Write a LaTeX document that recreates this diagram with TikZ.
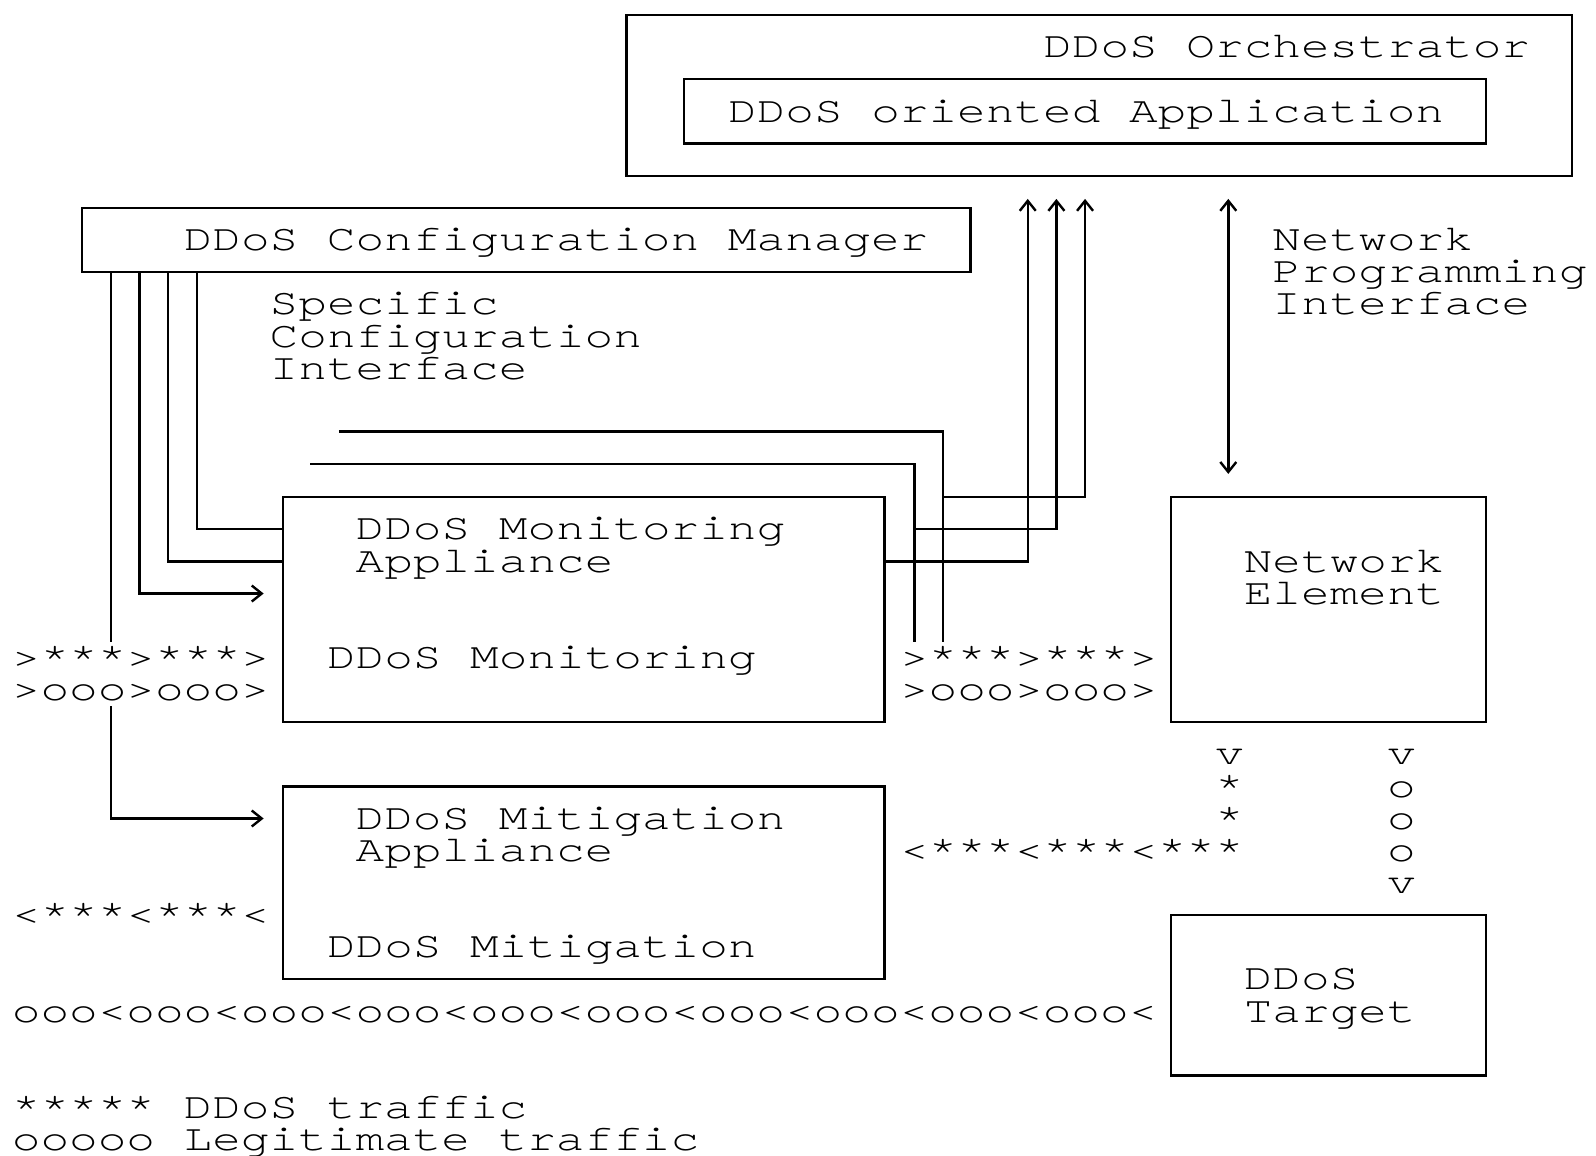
\documentclass[tikz,border=0pt]{standalone}
\usepackage{fontspec}
\newfontfamily\asciifont{texgyrecursor-regular.otf}[FakeStretch=1.297, Ligatures={CommonOff}]
\usetikzlibrary{fit,arrows.meta}
\tikzset{
  unitbox/.style={draw, inner sep=0pt},
  stackbox/.style={inner sep=0pt},
  txt/.style={font=\asciifont\fontsize{18.4pt}{16.07pt}\selectfont, inner sep=0pt, anchor=base west, text height=13.3pt, text depth=2.6pt},
  traffic/.style={txt, fill=white},
}
\begin{document}
\begin{tikzpicture}[x=14.325pt, y=-16.07pt, line width=1.2pt, >={Straight Barb[length=5pt,width=8pt]}]
\useasboundingbox (-0.8726,-0.4667) rectangle (54.834,35.47);
\node[unitbox, fit={(21,0) (54,5)}] (orch) {};
\node[unitbox, fit={(23,2) (51,4)}] (app) {};
\node[unitbox, fit={(2,6) (33,8)}] (cfg) {};
\node[stackbox, fit={(11,13) (32,19.5)}] (monC) {};
\node[stackbox, fit={(10,14) (31,19.5)}] (monB) {};
\node[unitbox, fit={(9,15) (30,22)}] (monA) {};
\node[unitbox, fit={(9,24) (30,30)}] (mit) {};
\node[unitbox, fit={(40,15) (51,22)}] (ne) {};
\node[unitbox, fit={(40,28) (51,33)}] (tgt) {};
\draw (monC.north west) -- (monC.north east) -- (monC.south east);
\draw (monB.north west) -- (monB.north east) -- (monB.south east);

\draw (cfg.south -| 6,0) |- (monA.west |- 0,16);
\draw (cfg.south -| 5,0) |- (monA.west |- 0,17);
\draw[->, shorten >=9pt] (cfg.south -| 4,0) |- (monA.west |- 0,18);
\draw[->, shorten >=9pt] (cfg.south -| 3,0) |- (mit.west |- 0,25);
\draw[<-, shorten <=11pt] (orch.south -| 35,0) |- (monA.east |- 0,17);
\draw[<-, shorten <=11pt] (orch.south -| 36,0) |- (monB.east |- 0,16);
\draw[<-, shorten <=11pt] (orch.south -| 37,0) |- (monC.east |- 0,15);
\draw[<->, shorten <=11pt, shorten >=11pt] (orch.south -| 42,0) -- (ne.north -| 42,0);

\node[txt] (orchtxt) at (35.5,1.333) {DDoS Orchestrator};
\node[txt] (apptxt) at (24.5,3.333) {DDoS oriented Application};
\node[txt] (cfgtxt) at (5.5,7.333) {DDoS Configuration Manager};
\foreach \t [count=\i from 9] in {Specific,Configuration,Interface}
  \node[txt] (sci\i) at (8.5,\i+0.333) {\t};
\foreach \t [count=\i from 7] in {Network,Programming,Interface}
  \node[txt] (npi\i) at (43.5,\i+0.333) {\t};
\node[txt] (monAtxt) at (11.5,16.333) {DDoS Monitoring};
\node[txt] (monAtyp) at (11.5,17.333) {Appliance};
\node[txt] (monAfun) at (10.5,20.333) {DDoS Monitoring};
\node[txt] (netxt) at (42.5,17.333) {Network};
\node[txt] (netyp) at (42.5,18.333) {Element};
\node[txt] (mittxt) at (11.5,25.333) {DDoS Mitigation};
\node[txt] (mittyp) at (11.5,26.333) {Appliance};
\node[txt] (mitfun) at (10.5,29.333) {DDoS Mitigation};
\node[txt] (tgttxt) at (42.5,30.333) {DDoS};
\node[txt] (tgttyp) at (42.5,31.333) {Target};

\node[traffic] (attackin) at (-0.5,20.333) {>***>***>};
\node[traffic] (legitin) at (-0.5,21.333) {>ooo>ooo>};
\node[traffic] (attackfwd) at (30.5,20.333) {>***>***>};
\node[traffic] (legitfwd) at (30.5,21.333) {>ooo>ooo>};
\foreach \ch [count=\i from 23] in {v,*,*}
  \node[traffic] (attackdown\i) at (41.5,\i+0.333) {\ch};
\foreach \ch [count=\i from 23] in {v,o,o,o,v}
  \node[traffic] (legitdown\i) at (47.5,\i+0.333) {\ch};
\node[traffic] (attackback) at (30.5,26.333) {<***<***<***};
\node[traffic] (attackout) at (-0.5,28.333) {<***<***<};
\node[traffic] (legitout) at (-0.5,31.333) {ooo<ooo<ooo<ooo<ooo<ooo<ooo<ooo<ooo<ooo<};

\node[txt] (keyattack) at (-0.5,34.333) {***** DDoS traffic};
\node[txt] (keylegit) at (-0.5,35.333) {ooooo Legitimate traffic};
\end{tikzpicture}
\end{document}
